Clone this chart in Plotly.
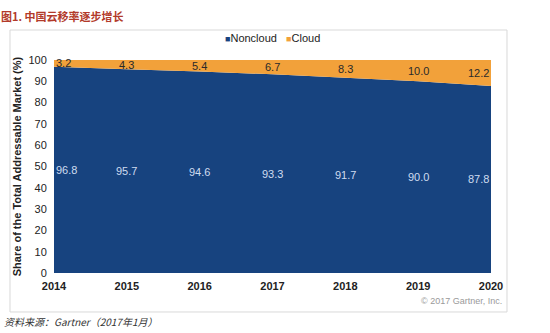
import plotly.graph_objects as go

years = [2014, 2015, 2016, 2017, 2018, 2019, 2020]
noncloud = [96.8, 95.7, 94.6, 93.3, 91.7, 90.0, 87.8]
cloud = [3.2, 4.3, 5.4, 6.7, 8.3, 10.0, 12.2]
series_names = ["Noncloud", "Cloud"]

BLUE = "#17437f"
ORANGE = "#f2a13a"
FONT = "Liberation Sans, Arial, sans-serif"

fig = go.Figure()
fig.add_trace(go.Scatter(x=years, y=noncloud, name=series_names[0], stackgroup="one",
                         mode="none", fillcolor=BLUE, line=dict(width=0), showlegend=False))
fig.add_trace(go.Scatter(x=years, y=cloud, name=series_names[1], stackgroup="one",
                         mode="none", fillcolor=ORANGE, line=dict(width=0), showlegend=False))

ann = []
for x, n, c in zip(years, noncloud, cloud):
    xa = "left" if x == years[0] else ("right" if x == years[-1] else "center")
    ann.append(dict(x=x, y=n / 2, text=f"{n:.1f}", showarrow=False,
                    font=dict(color="#cfdcf0", size=11, family=FONT), xanchor=xa))
    ann.append(dict(x=x, y=n + c / 2, text=f"{c:.1f}", showarrow=False,
                    font=dict(color="#2a2a2a", size=11, family=FONT), xanchor=xa))

# legend (compact, as in the reference)
legend_text = (f"<span style='color:{BLUE};font-size:9px'>■</span>{series_names[0]}"
               f"&nbsp;&nbsp;&nbsp;<span style='color:{ORANGE};font-size:9px'>■</span>{series_names[1]}")
ann.append(dict(xref="paper", yref="paper", x=0.5, y=1.103, text=legend_text,
                showarrow=False, xanchor="center", yanchor="middle",
                font=dict(color="#222222", size=11, family=FONT)))

ann.append(dict(xref="paper", yref="paper", x=-0.125, y=1.207, text="<b>图1. 中国云移率逐步增长</b>",
                showarrow=False, xanchor="left", yanchor="middle",
                font=dict(color="#b23a2a", size=11, family="Noto Sans CJK SC")))
ann.append(dict(xref="paper", yref="paper", x=-0.12, y=-0.23,
                text="<i>资料来源：Gartner（2017年1月）</i>",
                showarrow=False, xanchor="left", yanchor="middle",
                font=dict(color="#333333", size=10, family="Noto Sans CJK SC")))
ann.append(dict(xref="paper", yref="paper", x=1.03, y=-0.13, text="© 2017 Gartner, Inc.",
                showarrow=False, xanchor="right", yanchor="middle",
                font=dict(color="#9a9a9a", size=9, family=FONT)))

fig.update_layout(
    width=550, height=333,
    margin=dict(l=54, r=59, t=60, b=60),
    paper_bgcolor="white", plot_bgcolor="white",
    font=dict(family=FONT, color="#222222", size=11),
    showlegend=False,
    annotations=ann,
    shapes=[dict(type="rect", xref="paper", yref="paper", x0=-0.1007, x1=1.0366,
                 y0=-0.183, y1=1.1408, line=dict(color="#d9d9d9", width=1), layer="below")],
)
fig.update_xaxes(range=[2014, 2020], tickvals=years, ticktext=[f"<b>{y}</b>" for y in years],
                 showgrid=False, zeroline=False, showline=False, ticks="outside",
                 ticklen=3, tickcolor="rgba(0,0,0,0)",
                 tickfont=dict(size=11, color="#222222"))
fig.update_yaxes(range=[0, 100], dtick=10, showgrid=False, zeroline=False, showline=False,
                 ticks="outside", ticklen=4, tickcolor="rgba(0,0,0,0)",
                 tickfont=dict(size=11, color="#222222"),
                 title=dict(text="<b>Share of the Total Addressable Market (%)</b>",
                            font=dict(size=11, color="#222222"), standoff=4))

fig.write_html("out.html")
